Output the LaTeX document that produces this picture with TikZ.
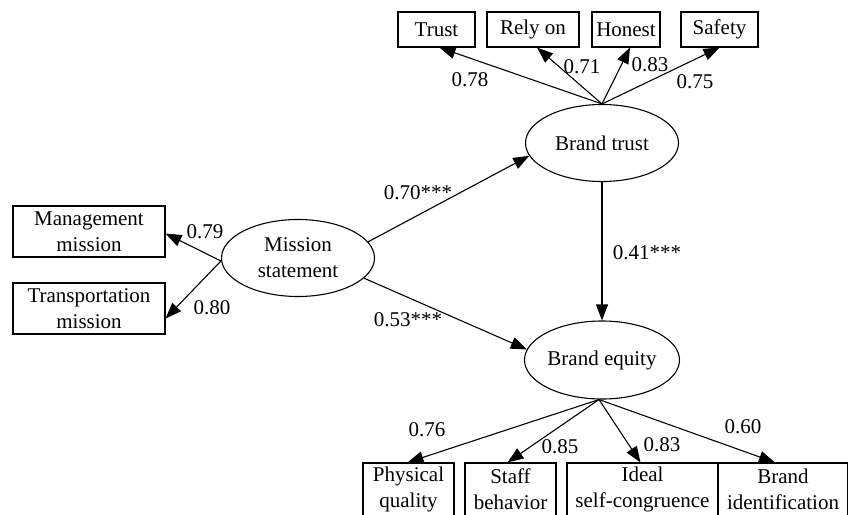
\documentclass[tikz,border=0pt]{standalone}
\usepackage{fontspec}
\setmainfont{Liberation Serif}
\usetikzlibrary{arrows.meta,calc,shapes.geometric}
\begin{document}
\begin{tikzpicture}[x=1pt,y=-1pt,
  every node/.style={font=\fontsize{21}{26}\selectfont, inner sep=0pt},
  obs/.style={draw, line width=1.1pt, rectangle, align=center},
  lat/.style={draw, line width=1.1pt, ellipse, align=center},
  lbl/.style={},
  conn/.style={line width=1.1pt, -{Triangle[length=16pt,width=12pt]}}]
\useasboundingbox (0,0) rectangle (848,514);
\clip (0,0) rectangle (848,514);
% latent variables
\node[lat, minimum width=153pt, minimum height=77pt] (bt) at (602,143) {Brand trust};
\node[lat, minimum width=153pt, minimum height=77pt] (ms) at (298,258) {Mission\\statement};
\node[lat, minimum width=155pt, minimum height=78pt] (be) at (602,360) {Brand equity};
% top indicators
\node[obs, minimum width=77pt, minimum height=35pt] (trust) at (436.5,29.5) {Trust};
\node[obs, minimum width=92pt, minimum height=35pt] (rely) at (533,29.5) {Rely on};
\node[obs, minimum width=68pt, minimum height=35pt] (honest) at (626,29.5) {Honest};
\node[obs, minimum width=77pt, minimum height=35pt] (safety) at (719.5,29.5) {Safety};
% left indicators
\node[obs, minimum width=152pt, minimum height=51pt] (mm) at (89,231.5) {Management\\mission};
\node[obs, minimum width=152pt, minimum height=51pt] (tm) at (89,308.5) {Transportation\\mission};
% bottom indicators
\node[obs, minimum width=91pt, minimum height=53pt] (pq) at (408.5,489.5) {Physical\\quality};
\node[obs, minimum width=91pt, minimum height=53pt] (sb) at (510.5,489.5) {Staff\\behavior};
\node[obs, minimum width=151pt, minimum height=53pt] (isc) at (642.5,489.5) {Ideal\\self-congruence};
\node[obs, minimum width=130pt, minimum height=53pt] (bid) at (783,489.5) {Brand\\identification};
% coordinates
\coordinate (btTop) at (bt.north);
\coordinate (msW) at ($(ms.west)+(0,3)$);
\coordinate (beBot) at ($(be.south)+(-3,0)$);
% top arrows
\draw[conn] (btTop) -- ($(trust.south)+(3,0)$);
\draw[conn] (btTop) -- ($(rely.south)+(4,0)$);
\draw[conn] (btTop) -- ($(honest.south)+(4,0)$);
\draw[conn] (btTop) -- (safety.south);
% left arrows
\draw[conn] (msW) -- ($(mm.east)+(0,2)$);
\draw[conn] (msW) -- ($(tm.east)+(0,10)$);
% structural paths
\draw[conn] (ms.13) -- (bt.190);
\draw[conn] (ms.-17) -- (be.172);
\draw[conn] (bt.south) -- (be.north);
% bottom arrows
\draw[conn] (beBot) -- ($(pq.north)+(-1,0)$);
\draw[conn] (beBot) -- ($(sb.north)+(-3,0)$);
\draw[conn] (beBot) -- ($(isc.north)+(-2,0)$);
\draw[conn] (beBot) -- ($(bid.north)+(-8,0)$);
% labels
\node[lbl] (l1) at (470,80) {0.78};
\node[lbl] (l2) at (582,67) {0.71};
\node[lbl] (l3) at (650,65) {0.83};
\node[lbl] (l4) at (695,82) {0.75};
\node[lbl] (l5) at (205,232) {0.79};
\node[lbl] (l6) at (212,308) {0.80};
\node[lbl] (l7) at (418,193) {0.70***};
\node[lbl] (l8) at (408,320) {0.53***};
\node[lbl] (l9) at (647,253) {0.41***};
\node[lbl] (l10) at (427,430) {0.76};
\node[lbl] (l11) at (560,447) {0.85};
\node[lbl] (l12) at (662,445) {0.83};
\node[lbl] (l13) at (743,427) {0.60};
\end{tikzpicture}
\end{document}
